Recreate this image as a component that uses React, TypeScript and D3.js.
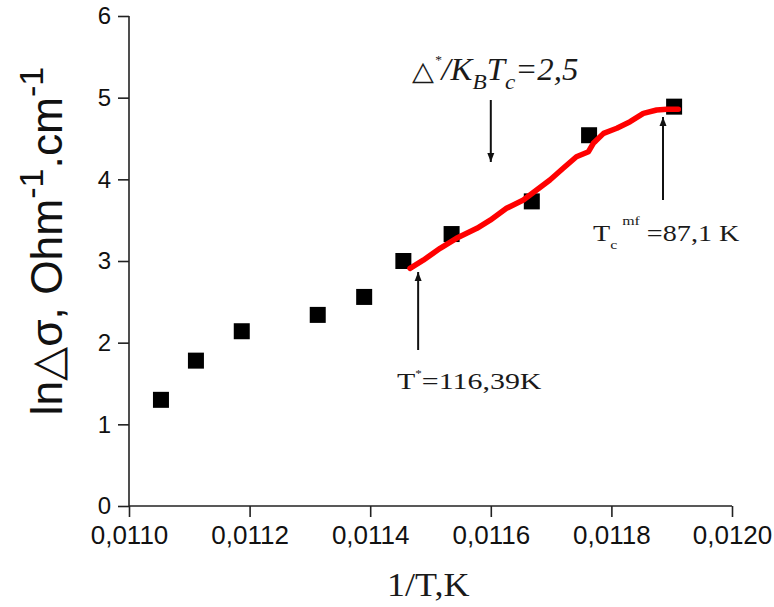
import * as d3 from 'd3';
import React, { useEffect, useRef } from 'react';

// measured points (1/T, ln dsigma)
const invT = [0.011053, 0.011111, 0.011187, 0.011313, 0.01139, 0.011455, 0.011535, 0.011668, 0.011763, 0.011904];
const lnSigma = [1.30, 1.78, 2.14, 2.34, 2.56, 3.0, 3.33, 3.73, 4.54, 4.89];

// red fit curve
const fitX = [0.011466, 0.011488, 0.011516, 0.011543, 0.011577, 0.011599, 0.011626, 0.011654, 0.011676, 0.011698, 0.01172, 0.011742, 0.011762, 0.01177, 0.011787, 0.011809, 0.011831, 0.011853, 0.011875, 0.011892, 0.011911];
const fitY = [2.91, 3.01, 3.155, 3.278, 3.40, 3.50, 3.645, 3.747, 3.869, 3.992, 4.135, 4.277, 4.338, 4.441, 4.563, 4.625, 4.706, 4.808, 4.849, 4.857, 4.857];

const xTicks = [0.011, 0.0112, 0.0114, 0.0116, 0.0118, 0.012];
const yTicks = [0, 1, 2, 3, 4, 5, 6];

export default function App() {
  const ref = useRef<SVGSVGElement>(null);
  const width = 774;
  const height = 607;
  const margin = { top: 16, right: 42, bottom: 101, left: 129 };

  useEffect(() => {
    drawChart();
  }, []);

  // squeeze / stretch a text horizontally so it covers the wanted width
  function fitWidth(sel: any, x0: number, w: number) {
    const bw = sel.node().getBBox().width;
    if (!bw) return;
    const s = w / bw;
    sel.attr('transform', `translate(${x0},0) scale(${s},1) translate(${-x0},0)`);
  }

  function drawChart() {
    const svg = d3.select(ref.current);
    svg.selectAll('*').remove();

    const x = d3.scaleLinear().domain([0.011, 0.012]).range([margin.left, width - margin.right]);
    const y = d3.scaleLinear().domain([0, 6]).range([height - margin.bottom, margin.top]);

    const fmt = (d: number) => d.toFixed(4).replace('.', ',');
    const sans = 'Liberation Sans, Arial, sans-serif';
    const serif = 'Liberation Serif, Times New Roman, serif';

    // x axis
    const gx = svg.append('g').attr('transform', 'translate(0,' + (height - margin.bottom) + ')');
    gx.call(d3.axisBottom(x).tickValues(d3.range(0, 11).map(i => 0.011 + i * 0.0001)).tickSize(7).tickFormat(() => ''));
    gx.call(d3.axisBottom(x).tickValues(xTicks).tickSize(11).tickFormat(d => fmt(+d)).tickPadding(9));
    gx.selectAll('.domain').remove();
    gx.append('line').attr('x1', margin.left).attr('x2', width - margin.right).attr('stroke', '#222').attr('stroke-width', 1.6);
    gx.selectAll('line').attr('stroke', '#222').attr('stroke-width', 1.6);
    gx.selectAll('text').attr('font-family', sans).attr('font-size', 26).attr('fill', '#111');

    // y axis
    const gy = svg.append('g').attr('transform', 'translate(' + margin.left + ',0)');
    gy.call(d3.axisLeft(y).tickValues(d3.range(0, 13).map(i => i * 0.5)).tickSize(7).tickFormat(() => ''));
    gy.call(d3.axisLeft(y).tickValues(yTicks).tickSize(11).tickFormat(d => String(d)).tickPadding(7));
    gy.selectAll('.domain').remove();
    gy.append('line').attr('y1', margin.top).attr('y2', height - margin.bottom).attr('stroke', '#222').attr('stroke-width', 1.6);
    gy.selectAll('line').attr('stroke', '#222').attr('stroke-width', 1.6);
    gy.selectAll('text').attr('font-family', sans).attr('font-size', 24).attr('fill', '#111');

    // squares
    const sz = 16;
    svg.append('g').selectAll('rect').data(invT).enter().append('rect')
      .attr('x', (d) => x(d) - sz / 2)
      .attr('y', (d, i) => y(lnSigma[i]) - sz / 2)
      .attr('width', sz).attr('height', sz)
      .attr('fill', '#000');

    // fit line
    const line = d3.line<number>().x(d => x(d)).y((d, i) => y(fitY[i]));
    svg.append('path').attr('d', line(fitX)).attr('fill', 'none').attr('stroke', '#ff0000').attr('stroke-width', 5.5).attr('stroke-linejoin', 'round').attr('stroke-linecap', 'round');

    // arrows
    const arrow = (xx: number, y1: number, y2: number, up: boolean) => {
      svg.append('line').attr('x1', xx).attr('x2', xx).attr('y1', y1).attr('y2', y2).attr('stroke', '#111').attr('stroke-width', 2);
      const tip = up ? y1 : y2;
      const dir = up ? 1 : -1;
      svg.append('path')
        .attr('d', `M${xx},${tip} L${xx - 3.5},${tip + dir * 9} L${xx + 3.5},${tip + dir * 9} Z`)
        .attr('fill', '#111');
    };
    arrow(x(0.0114795), 272, 350, true);
    arrow(x(0.0118856), 117, 200, true);
    arrow(x(0.0116), 100, 162, false);

    // delta label
    const t1 = svg.append('text').attr('x', 412).attr('y', 80).attr('font-family', serif).attr('font-size', 31).attr('font-style', 'italic').attr('fill', '#1a1a1a');
    t1.append('tspan').text('△').attr('font-style', 'normal').attr('font-size', 27);
    t1.append('tspan').text('*').attr('font-size', 13).attr('dy', -16);
    t1.append('tspan').text('/K').attr('dy', 16);
    t1.append('tspan').text('B').attr('font-size', 22).attr('dy', 9);
    t1.append('tspan').text('T').attr('dy', -9);
    t1.append('tspan').text('c').attr('font-size', 22).attr('dy', 9);
    t1.append('tspan').text('=2,5').attr('dy', -9);
    fitWidth(t1, 412, 166);

    // T* label
    const t2 = svg.append('text').attr('x', 397).attr('y', 389).attr('font-family', serif).attr('font-size', 23).attr('fill', '#1a1a1a');
    t2.append('tspan').text('T');
    t2.append('tspan').text('*').attr('font-size', 10).attr('dy', -12);
    t2.append('tspan').text('=116,39K').attr('dy', 12);
    fitWidth(t2, 397, 145);

    // Tc mf label
    const t3 = svg.append('text').attr('x', 593).attr('y', 241).attr('font-family', serif).attr('font-size', 23).attr('fill', '#1a1a1a');
    t3.append('tspan').text('T');
    t3.append('tspan').text('c').attr('font-size', 13).attr('dy', 8);
    t3.append('tspan').text('mf').attr('font-size', 13).attr('dy', -24).attr('dx', 4);
    t3.append('tspan').text(' =87,1 K').attr('dy', 16);
    fitWidth(t3, 593, 147);

    // axis titles
    const xt = svg.append('text').attr('x', 387).attr('y', 596)
      .attr('font-family', serif).attr('font-size', 34).attr('fill', '#1a1a1a').text('1/T,K');
    fitWidth(xt, 387, 83);

    const ylg = svg.append('g').attr('transform', 'translate(62,241) rotate(-90)');
    const yl = ylg.append('text').attr('x', 0).attr('y', 0).attr('text-anchor', 'middle')
      .attr('font-family', sans).attr('font-size', 44).attr('fill', '#111');
    yl.append('tspan').text('ln△σ, Ohm');
    yl.append('tspan').text('-1').attr('font-size', 34).attr('dy', -19);
    yl.append('tspan').text('.cm').attr('dy', 19);
    yl.append('tspan').text('-1').attr('font-size', 34).attr('dy', -19);
    fitWidth(yl, 0, 349);
  }

  return <>
    <svg ref={ref} width={width} height={height} style={{ position: 'absolute', left: 0, top: 0, background: '#fff' }} />
  </>;
}
